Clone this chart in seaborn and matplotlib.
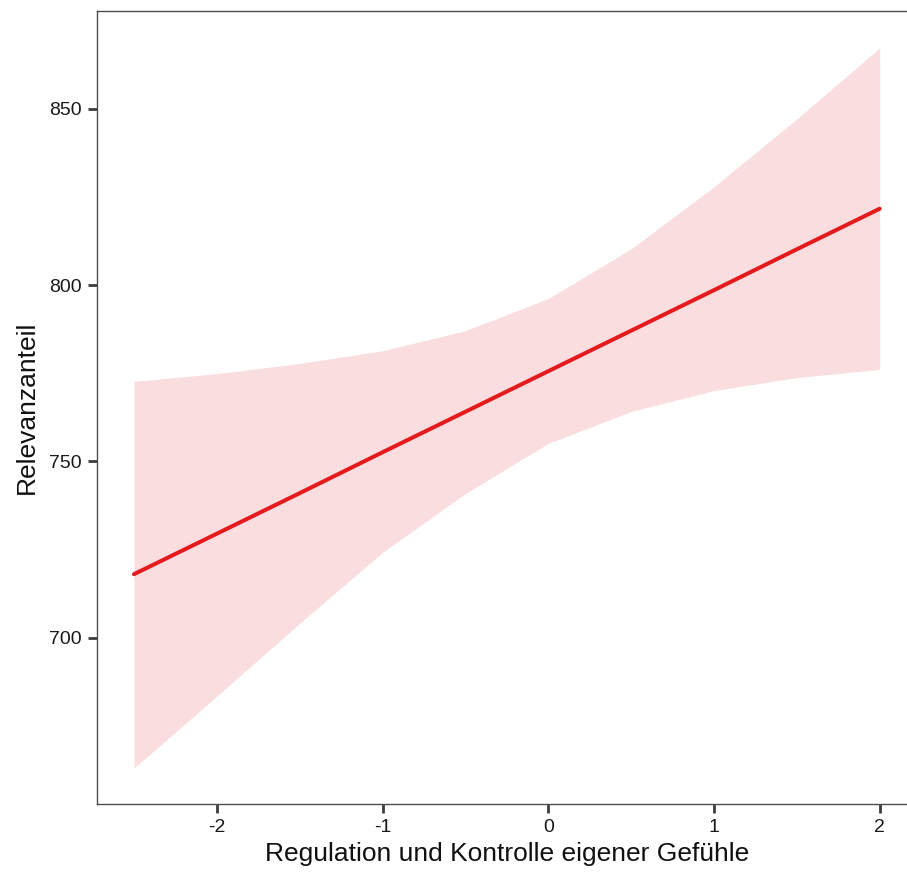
import matplotlib
matplotlib.use("Agg")
import matplotlib.pyplot as plt
import seaborn as sns
import pandas as pd

# Predicted effect with 95% confidence band
x_vals = [-2.5, -2.0, -1.5, -1.0, -0.5, 0.0, 0.5, 1.0, 1.5, 2.0]
predicted = [718.0, 729.5, 741.0, 752.6, 764.1, 775.6, 787.1, 798.6, 810.2, 821.7]
ci_upper = [772.7, 774.9, 777.8, 781.4, 787.1, 796.2, 810.3, 827.9, 847.2, 867.3]
ci_lower = [663.0, 683.4, 704.1, 724.2, 740.9, 755.1, 764.2, 770.1, 773.8, 776.1]

x_ticks = [-2, -1, 0, 1, 2]
y_ticks = [700, 750, 800, 850]

df = pd.DataFrame({"x": x_vals, "fit": predicted, "lo": ci_lower, "hi": ci_upper})

sns.set_theme(style="white")
plt.rcParams["font.family"] = ["Liberation Sans", "DejaVu Sans"]

W, H = 907, 873
fig = plt.figure(figsize=(W / 100, H / 100), dpi=100)
ax = fig.add_axes([96.7 / W, 69 / H, (917 - 96.7) / W, (804 - 11) / H])

ax.fill_between(df["x"], df["lo"], df["hi"], color="#FADDDE", linewidth=0, zorder=1)
sns.lineplot(data=df, x="x", y="fit", ax=ax, color="#E41A1C", linewidth=2.9, zorder=2)

ax.set_xlim(-2.725, 2.225)
ax.set_ylim(652.8, 877.8)
ax.set_xticks(x_ticks)
ax.set_xticklabels([str(t) for t in x_ticks])
ax.set_yticks(y_ticks)
ax.set_yticklabels([str(t) for t in y_ticks])

ax.set_xlabel("Regulation und Kontrolle eigener Gefühle", fontsize=19, color="#111111", labelpad=4)
ax.set_ylabel("Relevanzanteil", fontsize=19, color="#111111", labelpad=7)

for side in ["left", "bottom", "top"]:
    ax.spines[side].set_visible(True)
    ax.spines[side].set_color("#4d4d4d")
    ax.spines[side].set_linewidth(1.0)
ax.spines["right"].set_visible(False)

ax.tick_params(axis="both", which="major", length=6.8, width=2.0, color="#3d3d3d",
               labelsize=14, labelcolor="#1a1a1a", pad=4,
               bottom=True, left=True, top=False, right=False)
ax.set_facecolor("white")

fig.savefig("out.png", dpi=100, facecolor="white")
